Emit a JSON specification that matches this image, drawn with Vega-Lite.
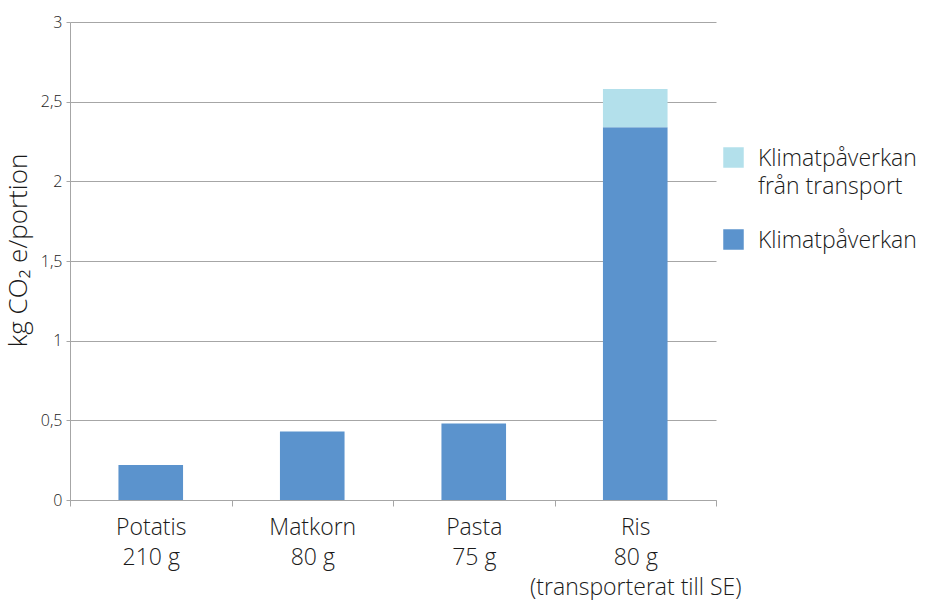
{
  "$schema": "https://vega.github.io/schema/vega-lite/v6.json",
  "width": 646,
  "height": 478,
  "autosize": {"type": "none"},
  "padding": {"left": 70, "top": 22, "right": 212, "bottom": 100},
  "background": "white",
  "config": {
    "font": "Open Sans",
    "view": {"stroke": null}
  },
  "data": {
    "values": [
      {"livsmedel": "Potatis|210 g", "typ": "Klimatpåverkan", "kg": 0.22, "ordning": 1},
      {"livsmedel": "Matkorn|80 g", "typ": "Klimatpåverkan", "kg": 0.43, "ordning": 1},
      {"livsmedel": "Pasta|75 g", "typ": "Klimatpåverkan", "kg": 0.48, "ordning": 1},
      {"livsmedel": "Ris|80 g|(transporterat till SE)", "typ": "Klimatpåverkan", "kg": 2.34, "ordning": 1},
      {"livsmedel": "Ris|80 g|(transporterat till SE)", "typ": "Klimatpåverkan från transport", "kg": 0.24, "ordning": 2}
    ]
  },
  "mark": {"type": "bar", "width": {"band": 0.4}},
  "encoding": {
    "x": {
      "field": "livsmedel",
      "type": "nominal",
      "sort": null,
      "scale": {"paddingInner": 0, "paddingOuter": 0},
      "axis": {
        "title": null,
        "labelAngle": 0,
        "labelExpr": "split(datum.label, '|')",
        "labelFontSize": 23,
        "labelFontWeight": 300,
        "labelColor": "#1a1a1a",
        "labelLineHeight": 30,
        "labelPadding": 10,
        "labelLimit": 400,
        "tickBand": "extent",
        "tickSize": 6,
        "tickColor": "#a6a6a6",
        "domainColor": "#a6a6a6",
        "grid": false
      }
    },
    "y": {
      "field": "kg",
      "type": "quantitative",
      "stack": "zero",
      "scale": {"domain": [0, 3], "nice": false},
      "axis": {
        "title": "kg CO₂ e/portion",
        "titleFontSize": 26,
        "titleFontWeight": 300,
        "titleColor": "#1a1a1a",
        "titleX": -52,
        "titleY": 228,
        "titleAngle": -90,
        "titleBaseline": "middle",
        "titleAlign": "center",
        "values": [0, 0.5, 1, 1.5, 2, 2.5, 3],
        "labelExpr": "replace(format(datum.value, '~g'), '.', ',')",
        "labelFontSize": 16,
        "labelFontWeight": 300,
        "labelColor": "#1a1a1a",
        "labelPadding": 4,
        "tickSize": 4,
        "tickColor": "#a6a6a6",
        "domainColor": "#a6a6a6",
        "gridColor": "#a6a6a6",
        "gridWidth": 1
      }
    },
    "color": {
      "field": "typ",
      "type": "nominal",
      "scale": {
        "domain": ["Klimatpåverkan från transport", "Klimatpåverkan"],
        "range": ["#b3e0eb", "#5b93cd"]
      },
      "legend": {
        "title": null,
        "orient": "none",
        "legendX": 652,
        "legendY": 124,
        "symbolType": "square",
        "symbolSize": 420,
        "symbolStrokeWidth": 0,
        "labelFontSize": 23,
        "labelFontWeight": 300,
        "labelColor": "#1a1a1a",
        "labelLimit": 300,
        "labelOffset": 13,
        "labelBaseline": "top",
        "rowPadding": 29,
        "labelExpr": "datum.label == 'Klimatpåverkan från transport' ? ['Klimatpåverkan', 'från transport'] : datum.label",
        "encode": {"labels": {"update": {"lineHeight": {"value": 28}, "dy": {"value": -10}}}}
      }
    },
    "order": {"field": "ordning", "type": "quantitative"}
  }
}
